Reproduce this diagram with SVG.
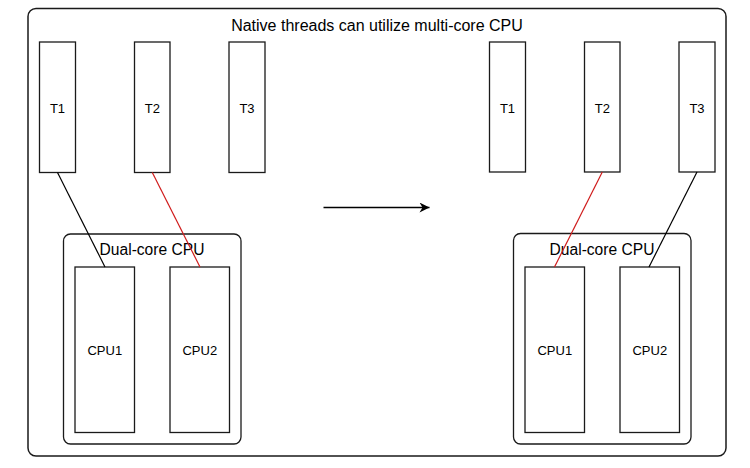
<svg xmlns="http://www.w3.org/2000/svg" width="750" height="468" viewBox="0 0 750 468">
<defs>
<style>
.box{fill:#fff;stroke:#1a1a1a;stroke-width:1.3}
.frame{fill:#fff;stroke:#1a1a1a;stroke-width:1.5}
.lbl{font-family:"Liberation Sans",Arial,sans-serif;font-size:13px;fill:#000;text-anchor:middle}
.big{font-family:"Liberation Sans",Arial,sans-serif;font-size:16px;fill:#000;text-anchor:middle}
.mid{font-family:"Liberation Sans",Arial,sans-serif;font-size:15.6px;fill:#000;text-anchor:middle}
.blk{stroke:#000;stroke-width:1.2;fill:none}
.red{stroke:#d01c1c;stroke-width:1.2;fill:none}
</style>
<marker id="arr" viewBox="0 0 10 10" refX="10" refY="5" markerWidth="14" markerHeight="10" markerUnits="userSpaceOnUse" orient="auto">
<path d="M0,0 L10,5 L0,10 L3,5 Z" fill="#000"/>
</marker>
</defs>
<rect width="750" height="468" fill="#fff"/>
<g id="frame">
<rect class="frame" x="28" y="8.5" width="698" height="447.5" rx="8"/>
<text class="big" x="377" y="31">Native threads can utilize multi-core CPU</text>
</g>
<g id="left-cpu">
<rect class="box" x="63.5" y="234" width="177.5" height="210" rx="7"/>
<text class="mid" x="152" y="255">Dual-core CPU</text>
</g>
<g id="left-cpu1"><rect class="box" x="75" y="267" width="59.5" height="165.5"/><text class="lbl" x="104.8" y="355">CPU1</text></g>
<g id="left-cpu2"><rect class="box" x="170" y="267" width="59.5" height="165.5"/><text class="lbl" x="199.8" y="355">CPU2</text></g>
<g id="left-t1"><rect class="box" x="39.5" y="42" width="36" height="130.5"/><text class="lbl" x="57.5" y="112.5">T1</text></g>
<g id="left-t2"><rect class="box" x="134.5" y="42" width="35.5" height="130.5"/><text class="lbl" x="152.3" y="112.5">T2</text></g>
<g id="left-t3"><rect class="box" x="229" y="42" width="36" height="130.5"/><text class="lbl" x="247" y="112.5">T3</text></g>
<g id="right-cpu">
<rect class="box" x="513.5" y="233.5" width="177.5" height="210.5" rx="7"/>
<text class="mid" x="602" y="255">Dual-core CPU</text>
</g>
<g id="right-cpu1"><rect class="box" x="525" y="267" width="59.5" height="165.5"/><text class="lbl" x="554.8" y="355">CPU1</text></g>
<g id="right-cpu2"><rect class="box" x="620" y="267" width="59.5" height="165.5"/><text class="lbl" x="649.8" y="355">CPU2</text></g>
<g id="right-t1"><rect class="box" x="489.5" y="42" width="36" height="130"/><text class="lbl" x="507.5" y="112.5">T1</text></g>
<g id="right-t2"><rect class="box" x="584.5" y="42" width="35.5" height="130"/><text class="lbl" x="602.3" y="112.5">T2</text></g>
<g id="right-t3"><rect class="box" x="679" y="42" width="36" height="130"/><text class="lbl" x="697" y="112.5">T3</text></g>
<g id="connectors">
<line class="blk" x1="57.5" y1="172.5" x2="105" y2="267"/>
<line class="red" x1="152.3" y1="172.5" x2="200" y2="267"/>
<line class="red" x1="602.3" y1="172" x2="554.5" y2="267"/>
<line class="blk" x1="697" y1="172" x2="649" y2="267"/>
<line x1="323.5" y1="207.5" x2="429.5" y2="207.5" stroke="#000" stroke-width="1.5" marker-end="url(#arr)"/>
</g>
</svg>
